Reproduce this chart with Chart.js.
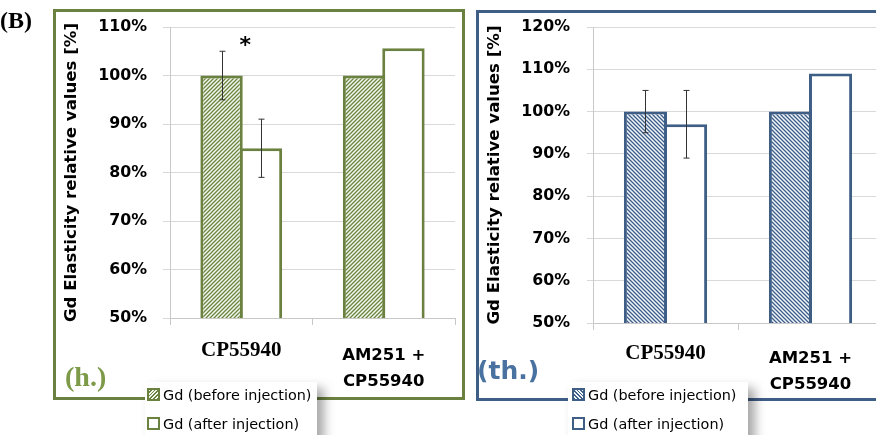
<!DOCTYPE html>
<html>
<head>
<meta charset="utf-8">
<script src="https://cdn.jsdelivr.net/npm/chart.js@4"></script>
<style>
  body { margin: 0; width: 876px; height: 435px; overflow: hidden; background: #fff; position: relative; font-family: "DejaVu Sans", sans-serif; }
  .frame { position: absolute; box-sizing: border-box; border: 3px solid; }
  #frameH { left: 53px; top: 9px; width: 412px; height: 391px; border-color: #6b8140; }
  #frameTh { left: 476px; top: 10px; width: 420px; height: 391px; border-color: #3f5e86; }
  canvas { position: absolute; top: 0; }
  #chH { left: 0; }
  #chTh { left: 470px; }
  .tag { position: absolute; font-weight: bold; line-height: 1; }
  #tagB { left: 0; top: 8px; font-family: "Liberation Serif", serif; font-size: 24px; color: #000; }
  #tagH { left: 65px; top: 363px; font-family: "Liberation Serif", serif; font-size: 28px; color: #7c9a48; }
  #tagTh { left: 477px; top: 358px; font-family: "DejaVu Sans", sans-serif; font-size: 25px; color: #4a72a0; }
  .legend { position: absolute; top: 382px; height: 62px; background: #fff; box-shadow: 7px 6px 10px rgba(0,0,0,.35); font-size: 14.4px; color: #000; }
  #legH { left: 145px; width: 172px; }
  #legTh { left: 568px; width: 180px; }
  .row { position: absolute; left: 0; height: 18px; line-height: 18px; white-space: nowrap; }
  .sw { display: inline-block; width: 9px; height: 9px; border: 2px solid; vertical-align: -1px; margin-right: 3px; }
  #legH .sw { border-color: #6b8140; margin-left: 2px; }
  #legTh .sw { border-color: #3f5e86; margin-left: 4px; }
  #legH .sw.hatch { background: repeating-linear-gradient(-45deg, #6b8440 0 1.2px, #f4f7ee 1.2px 2.6px); }
  #legTh .sw.hatch { background: repeating-linear-gradient(45deg, #3e5f8a 0 1.2px, #f2f5fa 1.2px 2.6px); }
</style>
</head>
<body>
<div id="frameH" class="frame"></div>
<div id="frameTh" class="frame"></div>
<canvas id="chH" width="470" height="400"></canvas>
<canvas id="chTh" width="420" height="400"></canvas>
<div id="tagB" class="tag">(B)</div>
<div id="tagH" class="tag">(h.)</div>
<div id="tagTh" class="tag">(th.)</div>
<div id="legH" class="legend"></div>
<div id="legTh" class="legend"></div>
<script>
// kategorie a série
const CATEGORIES = [["CP55940"], ["AM251 +", "CP55940"]];
const SERIES = ["Gd (before injection)", "Gd (after injection)"];
const Y_TITLE = "Gd Elasticity relative values [%]";

// (h.) panel
const H_BEFORE = [100, 100];
const H_AFTER = [85, 105.6];
const H_BEFORE_ERR = [5, null];
const H_AFTER_ERR = [6, null];
const H_STAR = { index: 0, value: 106.8 };
const H_RANGE = [50, 110];

// (th.) panel
const TH_BEFORE = [100, 100];
const TH_AFTER = [97, 109];
const TH_BEFORE_ERR = [5, null];
const TH_AFTER_ERR = [8, null];
const TH_RANGE = [50, 120];

function hatch(line, bg, dir) {
    const c = document.createElement("canvas");
    c.width = c.height = 4;
    const g = c.getContext("2d");
    g.fillStyle = bg; g.fillRect(0, 0, 4, 4);
    g.strokeStyle = line; g.lineWidth = 1.3;
    g.beginPath();
    if (dir > 0) { // "/"
        g.moveTo(-1, 5); g.lineTo(5, -1);
        g.moveTo(-1, 1); g.lineTo(1, -1);
        g.moveTo(3, 5); g.lineTo(5, 3);
    } else {       // "\"
        g.moveTo(-1, -1); g.lineTo(5, 5);
        g.moveTo(3, -1); g.lineTo(5, 1);
        g.moveTo(-1, 3); g.lineTo(1, 5);
    }
    g.stroke();
    return g.createPattern(c, "repeat");
}

// chybové úsečky + hvězdička
const errorBars = {
    id: "errorBars",
    afterDatasetsDraw(chart, args, opts) {
        const { ctx, scales: { x, y } } = chart;
        ctx.save();
        ctx.strokeStyle = "#333"; ctx.lineWidth = 1;
        (opts.errors || []).forEach((errs, di) => {
            const meta = chart.getDatasetMeta(di);
            const vals = chart.data.datasets[di].data;
            errs.forEach((e, j) => {
                if (e == null) return;
                const px = Math.round(meta.data[j].x) + 0.5;
                const top = y.getPixelForValue(vals[j] + e);
                const bot = y.getPixelForValue(vals[j] - e);
                ctx.beginPath();
                ctx.moveTo(px, top); ctx.lineTo(px, bot);
                ctx.moveTo(px - 3, top); ctx.lineTo(px + 3, top);
                ctx.moveTo(px - 3, bot); ctx.lineTo(px + 3, bot);
                ctx.stroke();
            });
        });
        if (opts.star) {
            ctx.fillStyle = "#000";
            ctx.font = "bold 22px 'DejaVu Sans'";
            ctx.textAlign = "center"; ctx.textBaseline = "middle";
            ctx.fillText("*", x.getPixelForValue(opts.star.index) + 4, y.getPixelForValue(opts.star.value) + 4);
        }
        ctx.restore();
    }
};

function panel(id, o) {
    const el = document.getElementById(id);
    return new Chart(el, {
        type: "bar",
        data: {
            labels: CATEGORIES,
            datasets: [
                { label: SERIES[0], data: o.before, backgroundColor: o.pattern, borderColor: o.color,
                  borderWidth: 3, borderSkipped: false },
                { label: SERIES[1], data: o.after, backgroundColor: "#fff", borderColor: o.color,
                  borderWidth: 3, borderSkipped: false },
            ],
        },
        options: {
            responsive: false, animation: false, maintainAspectRatio: false,
            categoryPercentage: 0.553, barPercentage: 1.076,
            layout: { padding: { top: 27, right: o.padRight, left: 0, bottom: 0 } },
            plugins: {
                legend: { display: false }, tooltip: { enabled: false },
                errorBars: { errors: o.errors, star: o.star },
            },
            scales: {
                x: {
                    grid: { drawOnChartArea: false, tickLength: 7, color: "#c8c8c8" },
                    border: { color: "#c8c8c8" },
                    ticks: {
                        color: "#000", padding: o.xPad,
                        font: c => c.index === 0
                            ? { family: "Liberation Serif", weight: "bold", size: 21, lineHeight: 0.8 }
                            : { family: "DejaVu Sans", weight: "bold", size: 16.5, lineHeight: 1.62 },
                    },
                    afterFit: s => { s.height = o.xHeight; },
                },
                y: {
                    min: o.range[0], max: o.range[1],
                    grid: { color: "#d9d9d9", tickLength: o.tickLen },
                    border: { color: "#c8c8c8" },
                    ticks: {
                        stepSize: 10, color: "#000", padding: o.yPad,
                        font: { family: "DejaVu Sans", weight: "bold", size: 15.8 },
                        callback: v => v + "%",
                    },
                    title: {
                        display: true, text: Y_TITLE, color: "#000",
                        font: { family: "DejaVu Sans", weight: "bold", size: 16.6 },
                        padding: { top: o.titlePad, bottom: 0 },
                    },
                    afterFit: s => { s.width = o.yWidth; },
                },
            },
        },
        plugins: [errorBars],
    });
}

panel("chH", {
    before: H_BEFORE, after: H_AFTER, errors: [H_BEFORE_ERR, H_AFTER_ERR], star: H_STAR,
    range: H_RANGE, color: "#6b8140", pattern: hatch("#6b8440", "#f4f7ee", 1),
    padRight: 15, yWidth: 170, xHeight: 82, tickLen: 7, yPad: 16, xPad: 17, titlePad: 62,
});
panel("chTh", {
    before: TH_BEFORE, after: TH_AFTER, errors: [TH_BEFORE_ERR, TH_AFTER_ERR], star: null,
    range: TH_RANGE, color: "#3f5e86", pattern: hatch("#3e5f8a", "#f2f5fa", -1),
    padRight: 7, yWidth: 123, xHeight: 77, tickLen: 6, yPad: 17, xPad: 15, titlePad: 15,
});

// legendy (HTML, mimo rámeček)
function legenda(id) {
    const box = document.getElementById(id);
    SERIES.forEach((s, i) => {
        const r = document.createElement("div");
        r.className = "row";
        r.style.top = (i === 0 ? 4 : 33) + "px";
        r.innerHTML = `<span class="sw${i === 0 ? " hatch" : ""}"></span>${s}`;
        box.appendChild(r);
    });
}
legenda("legH");
legenda("legTh");
</script>
</body>
</html>
